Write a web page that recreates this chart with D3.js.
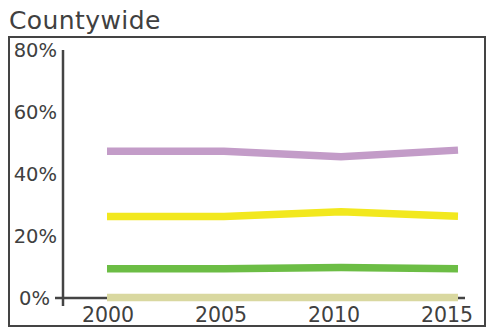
<!DOCTYPE html>
<html><head><meta charset="utf-8">
<script src="https://cdn.jsdelivr.net/npm/d3@7"></script>
<style>body{margin:0;background:#fff}svg{display:block}text{font-family:"DejaVu Sans",sans-serif;fill:#404040}</style>
</head><body>
<script>
const years = [2000, 2005, 2010, 2015];
const yTicks = [0, 20, 40, 60, 80];
const title = "Countywide";
const purple = [47.3, 47.3, 45.6, 47.7];
const yellow = [26.3, 26.3, 27.8, 26.4];
const green = [9.4, 9.4, 9.8, 9.4];
const beige = [0.2, 0.2, 0.2, 0.2];
const series = [
  {name: "beige", values: beige, color: "#d9d8a0"},
  {name: "green", values: green, color: "#6cbd45"},
  {name: "yellow", values: yellow, color: "#f2e81e"},
  {name: "purple", values: purple, color: "#c39cc8"}
];
const W = 489, H = 328;
const svg = d3.select("body").append("svg").attr("width", W).attr("height", H);
svg.append("text").attr("x", 9).attr("y", 29).attr("font-size", 25).attr("letter-spacing", 0.4).text(title);
svg.append("rect").attr("x", 9).attr("y", 37).attr("width", 476).attr("height", 289)
  .attr("fill", "none").attr("stroke", "#444").attr("stroke-width", 2);
const x = d3.scaleLinear().domain([2000, 2015]).range([107, 458]);
const xl = d3.scaleLinear().domain([2000, 2015]).range([108, 447]);
const y = d3.scaleLinear().domain([0, 80]).range([298, 50]);
// axes
svg.append("line").attr("x1", 63).attr("x2", 63).attr("y1", 50).attr("y2", 306).attr("stroke", "#444").attr("stroke-width", 2.5);
svg.append("line").attr("x1", 55).attr("x2", 465).attr("y1", y(0)).attr("y2", y(0)).attr("stroke", "#444").attr("stroke-width", 2.5);
svg.selectAll(".yt").data(yTicks).enter().append("text")
  .attr("x", d => d === 0 ? 50 : 57).attr("y", d => y(d)).attr("dy", "0.36em")
  .attr("text-anchor", "end").attr("font-size", 19.5).text(d => d + "%");
svg.selectAll(".xt").data(years).enter().append("text")
  .attr("x", d => xl(d)).attr("y", 322).attr("text-anchor", "middle").attr("font-size", 20.5).text(d => d);
const line = d3.line().x((d, i) => x(years[i])).y(d => y(d));
svg.selectAll(".s").data(series).enter().append("path")
  .attr("d", d => line(d.values)).attr("fill", "none").attr("stroke", d => d.color).attr("stroke-width", 7.5);
</script>
</body></html>
